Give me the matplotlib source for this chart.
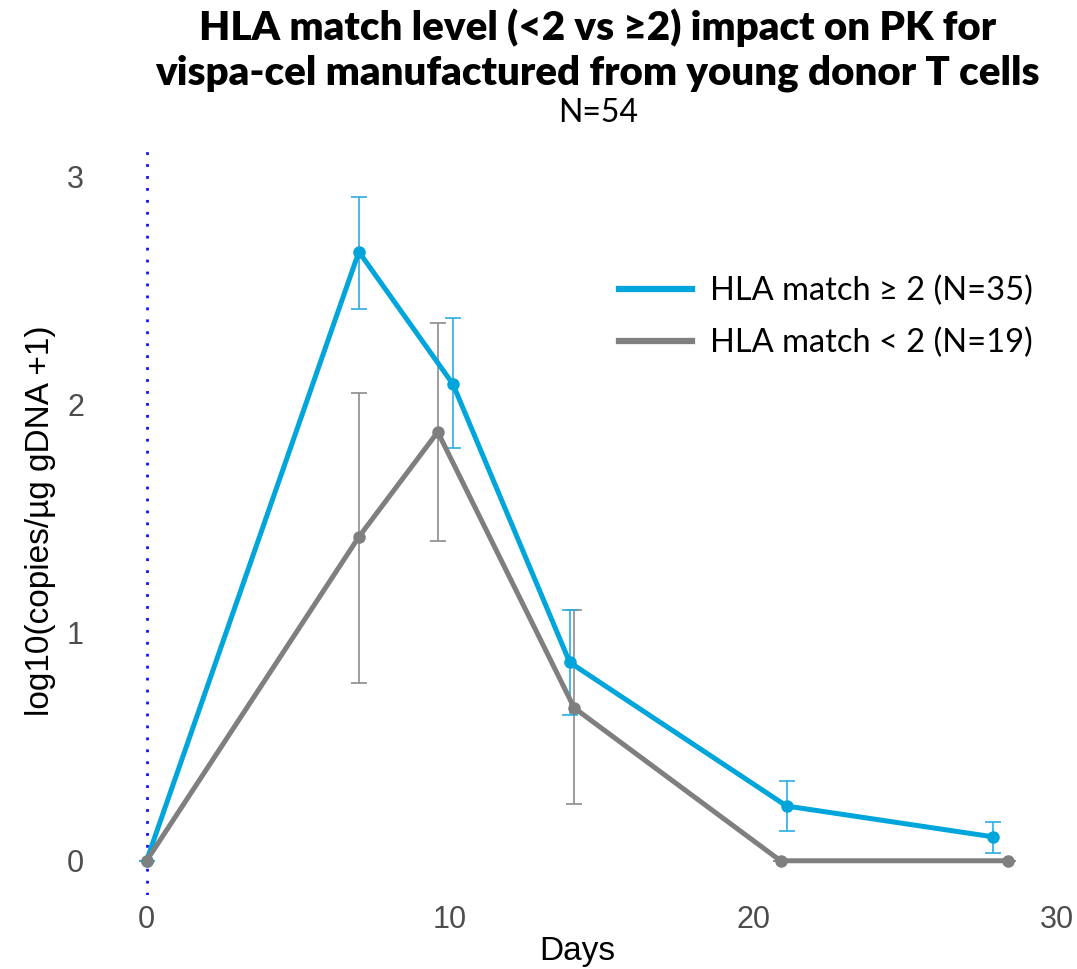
import numpy as np
import matplotlib
matplotlib.use("Agg")
import matplotlib.pyplot as plt
from matplotlib.lines import Line2D

# values
blue_days = [0, 7, 10.1, 13.95, 21.1, 27.9]
blue_mean = [0, 2.67, 2.09, 0.87, 0.24, 0.105]
blue_lo = [0, 2.42, 1.81, 0.64, 0.13, 0.035]
blue_hi = [0, 2.91, 2.38, 1.10, 0.35, 0.17]

gray_days = [0, 7, 9.6, 14.1, 20.9, 28.4]
gray_mean = [0, 1.42, 1.88, 0.67, 0, 0]
gray_lo = [0, 0.78, 1.40, 0.25, 0, 0]
gray_hi = [0, 2.05, 2.36, 1.10, 0, 0]

blue_label = "HLA match \u2265 2 (N=35)"
gray_label = "HLA match < 2 (N=19)"
title_lines = ["HLA match level (<2 vs \u22652) impact on PK for",
               "vispa-cel manufactured from young donor T cells"]
subtitle = "N=54"
x_ticks = [0, 10, 20, 30]
y_ticks = [0, 1, 2, 3]

BLUE = "#00a5db"
BLUE_ERR = "#2aaee0"
GRAY = "#7f7f7f"
GRAY_ERR = "#8c8c8c"
TITLE_FONT = ["Lato", "DejaVu Sans"]

fig = plt.figure(figsize=(10.77, 9.69), dpi=100)
ax = fig.add_axes([0.091, 0.0764, 0.890, 0.772])

def err(mean, lo, hi):
    m = np.array(mean)
    return [m - np.array(lo), np.array(hi) - m]

ax.errorbar(gray_days, gray_mean, yerr=err(gray_mean, gray_lo, gray_hi), fmt="none",
            ecolor=GRAY_ERR, elinewidth=1.2, capsize=5.5, capthick=1.2, zorder=2)
ax.errorbar(blue_days, blue_mean, yerr=err(blue_mean, blue_lo, blue_hi), fmt="none",
            ecolor=BLUE_ERR, elinewidth=1.2, capsize=5.5, capthick=1.2, zorder=2)

ax.plot(blue_days, blue_mean, color=BLUE, lw=3.6, marker="o", ms=8, zorder=3)
ax.plot(gray_days, gray_mean, color=GRAY, lw=3.6, marker="o", ms=8, zorder=4)

ax.axvline(0, color="#1010ff", lw=2, linestyle=(0, (1, 3.3)), zorder=1)

ax.set_xlim(-1.6, 30)
ax.set_ylim(-0.15, 3.13)
ax.set_xticks(x_ticks)
ax.set_yticks(y_ticks)
for s in ax.spines.values():
    s.set_visible(False)
ax.tick_params(length=0, labelsize=22, labelcolor="#4d4d4d")
ax.tick_params(axis="x", pad=7)
ax.tick_params(axis="y", pad=10)
for lab in ax.get_xticklabels() + ax.get_yticklabels():
    lab.set_family("Liberation Sans")

ax.set_xlabel("Days", fontsize=24, family="Liberation Sans", labelpad=1)
ax.set_ylabel("log10(copies/\u00b5g gDNA +1)", fontsize=24, family="Liberation Sans", labelpad=8)

handles = [Line2D([], [], color=BLUE, lw=4.5), Line2D([], [], color=GRAY, lw=4.5)]
fig.legend(handles, [blue_label, gray_label], loc="upper left",
           bbox_to_anchor=(619 / 1077, 1 - 276 / 969),
           frameon=False, borderpad=0, borderaxespad=0, handlelength=2.25,
           handletextpad=0.55, labelspacing=0.65,
           prop={"family": TITLE_FONT, "size": 23.5})

fig.text(0.555, 1 - 40 / 969, title_lines[0], ha="center", va="baseline",
         fontsize=29, fontweight="heavy", family=TITLE_FONT)
fig.text(0.555, 1 - 85 / 969, title_lines[1], ha="center", va="baseline",
         fontsize=29, fontweight="heavy", family=TITLE_FONT)
fig.text(0.555, 1 - 122 / 969, subtitle, ha="center", va="baseline", fontsize=23,
         family=TITLE_FONT)

fig.savefig("out.png", dpi=100)
